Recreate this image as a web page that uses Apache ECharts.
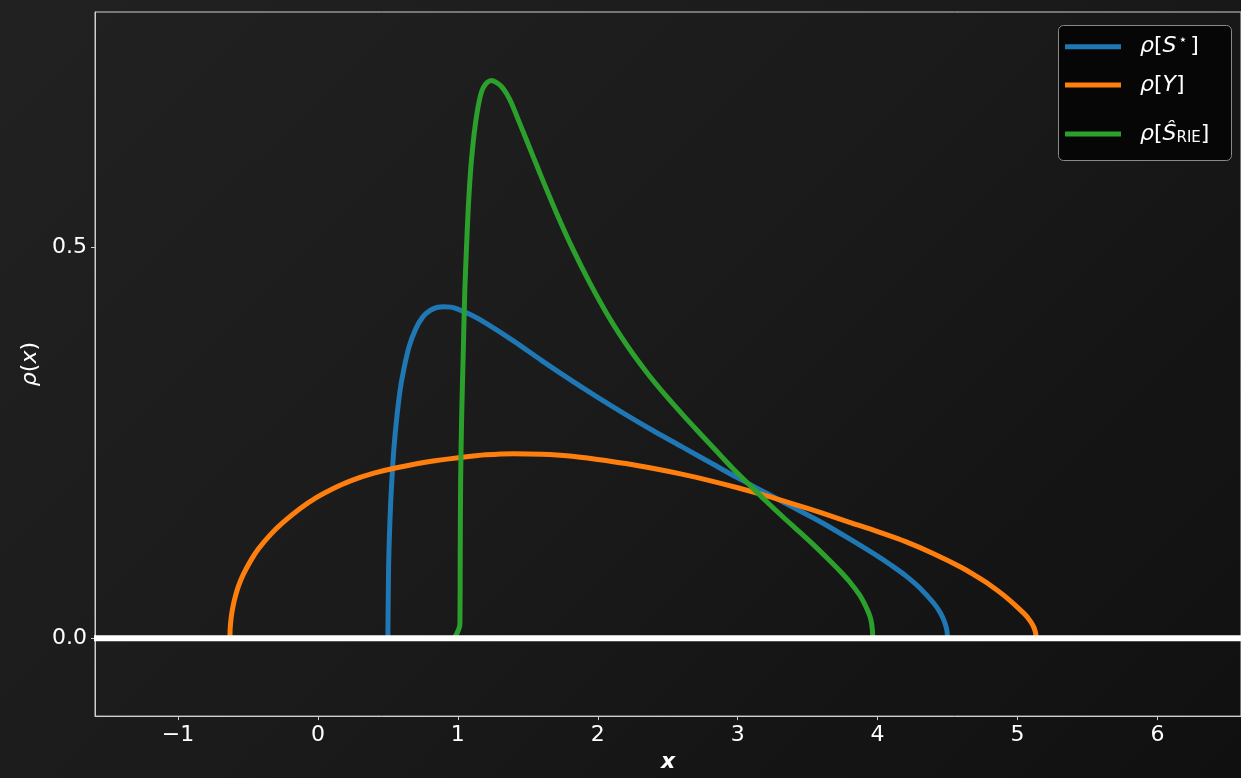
<!DOCTYPE html>
<html>
<head>
<meta charset="utf-8">
<script src="https://cdn.jsdelivr.net/npm/echarts@6/dist/echarts.min.js"></script>
<style>
html,body{margin:0;padding:0;width:1241px;height:778px;overflow:hidden;
background:linear-gradient(135deg,#212121 0%,#1c1c1c 40%,#151515 75%,#101010 100%);}
#c{width:1241px;height:778px;}
</style>
</head>
<body>
<div id="c"></div>
<script>
// ---- data ----
const xTicks = [-1, 0, 1, 2, 3, 4, 5, 6];
const yTicks = [0.0, 0.5];

// rho[S*]
const sStarData = [
  [0.500, 0.000], [0.505, 0.089], [0.510, 0.125], [0.520, 0.173], [0.535, 0.222],
  [0.550, 0.257], [0.575, 0.300], [0.600, 0.331], [0.650, 0.372], [0.700, 0.396],
  [0.750, 0.411], [0.800, 0.419], [0.850, 0.423], [0.900, 0.424], [0.950, 0.4235],
  [1.000, 0.421], [1.100, 0.413],
  [1.200, 0.403], [1.400, 0.380], [1.600, 0.355], [1.800, 0.331], [2.000, 0.308],
  [2.200, 0.286], [2.400, 0.265], [2.600, 0.245], [2.800, 0.225], [3.000, 0.205],
  [3.200, 0.186], [3.400, 0.167], [3.600, 0.148], [3.800, 0.127], [4.000, 0.105],
  [4.100, 0.093], [4.200, 0.080], [4.300, 0.0645], [4.400, 0.045], [4.450, 0.032],
  [4.480, 0.020], [4.495, 0.010], [4.500, 0.000]
];

// rho[Y]
const yData = [
  [-0.629, 0.000], [-0.627, 0.012], [-0.623, 0.021], [-0.617, 0.030], [-0.605, 0.042],
  [-0.589, 0.054], [-0.569, 0.066], [-0.533, 0.0815], [-0.479, 0.0995], [-0.426, 0.114],
  [-0.339, 0.1325], [-0.249, 0.148], [-0.129, 0.1655], [-0.009, 0.180], [0.110, 0.1915],
  [0.229, 0.201], [0.400, 0.211], [0.562, 0.218], [0.800, 0.226], [1.014, 0.231],
  [1.200, 0.2345], [1.400, 0.236], [1.600, 0.2353], [1.800, 0.233], [2.000, 0.2286],
  [2.200, 0.2234], [2.400, 0.2170], [2.600, 0.2098], [2.800, 0.2016], [3.000, 0.1924],
  [3.200, 0.1824], [3.400, 0.1716], [3.600, 0.1602], [3.800, 0.1482], [4.000, 0.1362],
  [4.200, 0.1234], [4.400, 0.1080], [4.600, 0.0904], [4.700, 0.0798], [4.800, 0.0684],
  [4.900, 0.0550], [5.000, 0.0395], [5.050, 0.0308], [5.080, 0.0246], [5.100, 0.0194],
  [5.115, 0.0144], [5.125, 0.0096], [5.130, 0.0059], [5.133, 0.000]
];

// rho[S_RIE]
const rieData = [
  [0.975, 0.000], [1.015, 0.018], [1.017, 0.100], [1.020, 0.200], [1.027, 0.280],
  [1.038, 0.360], [1.050, 0.445], [1.062, 0.500], [1.074, 0.548], [1.090, 0.595],
  [1.109, 0.633], [1.127, 0.660], [1.145, 0.680], [1.163, 0.695], [1.181, 0.704],
  [1.210, 0.711], [1.240, 0.7135], [1.275, 0.711], [1.312, 0.7057], [1.350, 0.696],
  [1.383, 0.6845], [1.430, 0.664], [1.490, 0.6376], [1.586, 0.595], [1.705, 0.544],
  [1.824, 0.497], [1.943, 0.4545], [2.062, 0.416], [2.160, 0.3876], [2.252, 0.3635],
  [2.370, 0.3354], [2.490, 0.3095], [2.610, 0.2853], [2.729, 0.2622], [2.850, 0.2390],
  [2.967, 0.2168], [3.110, 0.1915], [3.200, 0.1758], [3.324, 0.1550], [3.440, 0.1362],
  [3.550, 0.1180], [3.650, 0.1005], [3.729, 0.0862], [3.800, 0.0722], [3.871, 0.0553],
  [3.910, 0.0427], [3.935, 0.0328], [3.950, 0.0250], [3.958, 0.0178], [3.962, 0.0117],
  [3.964, 0.0066], [3.965, 0.000]
];

// white zero line
const baselineData = [[-1.6, 0], [6.6, 0]];

const seriesNames = ['S', 'Y', 'RIE'];
const seriesColors = ['#1f77b4', '#ff7f0e', '#2ca02c'];
const legendCenters = [46.7, 85, 134];

// ---- chart ----
const FONT = 'DejaVu Sans';
const chart = echarts.init(document.getElementById('c'), null, {renderer: 'canvas'});

const legendRich = {
  i: {fontFamily: FONT, fontStyle: 'italic', fontSize: 22, color: '#fff', lineHeight: 30},
  i0: {fontFamily: FONT, fontStyle: 'italic', fontSize: 22, color: '#fff', lineHeight: 30, padding: [0, 0, 0, 14]},
  r: {fontFamily: FONT, fontSize: 22, color: '#fff', lineHeight: 30},
  sup: {fontFamily: FONT, fontSize: 14, color: '#fff', padding: [0, 3, 12, 2]},
  sub: {fontFamily: FONT, fontSize: 15, color: '#fff', padding: [9, 0, 0, 0]}
};
const legendLabels = {
  S: '{i0|ρ}{r|[}{i|S}{sup|⋆}{r|]}',
  Y: '{i0|ρ}{r|[}{i|Y}{r|]}',
  RIE: '{i0|ρ}{r|[}{i|Ŝ}{sub|RIE}{r|]}'
};

const legends = seriesNames.map((n, k) => ({
  left: 1065, top: legendCenters[k] - 15,
  orient: 'vertical',
  itemWidth: 56, itemHeight: 5, itemGap: 0,
  icon: 'rect',
  padding: 0,
  data: [n],
  formatter: name => legendLabels[name],
  textStyle: {color: '#fff', fontFamily: FONT, fontSize: 22, lineHeight: 30, rich: legendRich},
  z: 10
}));

const lineSeries = (name, data, k, z) => ({
  name: name, type: 'line', data: data, showSymbol: false, symbol: 'none',
  smooth: 0.3,
  lineStyle: {color: seriesColors[k], width: 5, join: 'round'},
  itemStyle: {color: seriesColors[k]}, z: z
});

chart.setOption({
  backgroundColor: 'transparent',
  animation: false,
  grid: {
    left: 95, top: 12, right: -2, bottom: 61,
    show: true, borderColor: '#cfcfcf', borderWidth: 1, backgroundColor: 'transparent'
  },
  graphic: [{
    type: 'rect', left: 1058, top: 25, z: 5,
    shape: {width: 173, height: 135, r: 5},
    style: {fill: '#060606', stroke: '#8a8a8a', lineWidth: 1}
  }],
  legend: legends,
  xAxis: {
    type: 'value',
    min: -1.593, max: 6.597,
    name: 'x',
    nameLocation: 'middle',
    nameGap: 33,
    nameTextStyle: {color: '#fff', fontFamily: FONT, fontStyle: 'italic', fontWeight: 'bold', fontSize: 22},
    axisLine: {show: true, onZero: false, lineStyle: {color: '#cfcfcf', width: 1}},
    axisTick: {show: true, length: 4, customValues: xTicks, lineStyle: {color: '#cfcfcf'}},
    axisLabel: {
      customValues: xTicks, margin: 8, color: '#fff', fontFamily: FONT, fontSize: 22,
      formatter: v => String(v).replace('-', '\u2212')
    },
    splitLine: {show: false}
  },
  yAxis: {
    type: 'value',
    min: -0.0997, max: 0.801,
    name: '{i|ρ}{r|(}{i|x}{r|)}',
    nameLocation: 'middle',
    nameGap: 52,
    nameTextStyle: {
      color: '#fff', fontFamily: FONT, fontSize: 22,
      rich: {
        i: {fontFamily: FONT, fontStyle: 'italic', fontSize: 22, color: '#fff'},
        r: {fontFamily: FONT, fontSize: 22, color: '#fff'}
      }
    },
    axisLine: {show: true, onZero: false, lineStyle: {color: '#cfcfcf', width: 1}},
    axisTick: {show: true, length: 4, customValues: yTicks, lineStyle: {color: '#cfcfcf'}},
    axisLabel: {
      customValues: yTicks, margin: 8, color: '#fff', fontFamily: FONT, fontSize: 22,
      formatter: v => Number(v).toFixed(1)
    },
    splitLine: {show: false}
  },
  series: [
    lineSeries('S', sStarData, 0, 2),
    lineSeries('Y', yData, 1, 3),
    lineSeries('RIE', rieData, 2, 4),
    {name: 'zero', type: 'line', data: baselineData, showSymbol: false, symbol: 'none',
     lineStyle: {color: '#ffffff', width: 6}, z: 5, silent: true}
  ]
});
</script>
</body>
</html>
